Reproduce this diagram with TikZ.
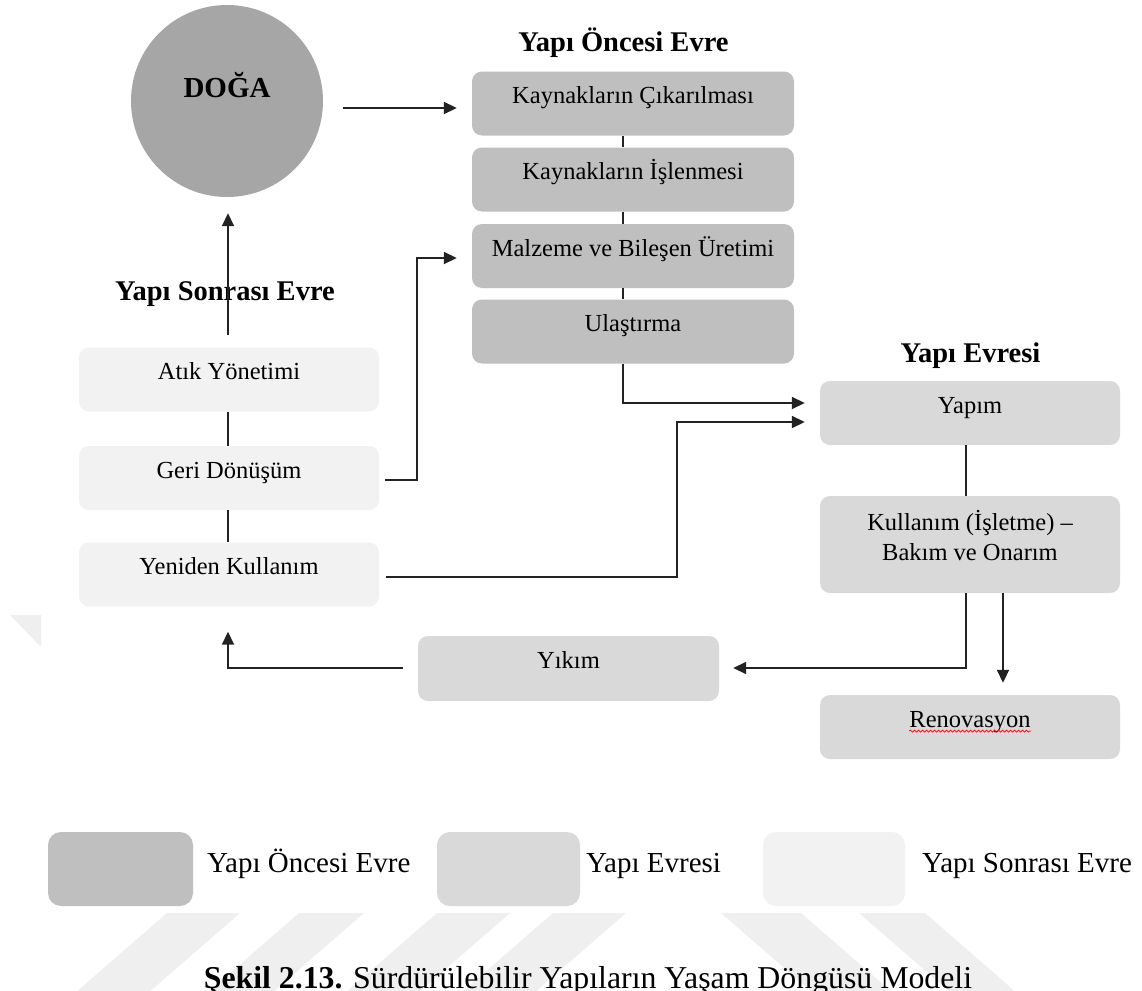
\documentclass[tikz,border=0pt]{standalone}
\usepackage{fontspec}
\setmainfont{Liberation Serif}
\usetikzlibrary{arrows.meta,calc,decorations.pathmorphing}

\definecolor{preclr}{HTML}{BFBFBF}
\definecolor{conclr}{HTML}{D9D9D9}
\definecolor{postclr}{HTML}{F2F2F2}
\definecolor{natclr}{HTML}{A6A6A6}
\definecolor{wmclr}{HTML}{EFEFEF}
\definecolor{lineclr}{HTML}{222222}

\begin{document}
\begin{tikzpicture}[x=1pt,y=-1pt,
  phase/.style={rounded corners=10pt, inner sep=0pt, minimum height=64pt, minimum width=300pt},
  prebox/.style={phase, fill=preclr, minimum width=322pt},
  conbox/.style={phase, fill=conclr},
  postbox/.style={phase, fill=postclr},
  keybox/.style={rounded corners=13pt, inner sep=0pt, minimum height=74pt, minimum width=144pt},
  lbl/.style={anchor=base, inner sep=0pt, font=\fontsize{24.5}{29}\selectfont},
  ttl/.style={anchor=base, inner sep=0pt, font=\fontsize{28.5}{34}\selectfont\bfseries},
  keytxt/.style={anchor=base west, inner sep=0pt, font=\fontsize{29}{34}\selectfont},
  link/.style={draw=lineclr, line width=1.8pt},
  arr/.style={link, -{Triangle[length=13pt,width=12pt]}},
]
\path[use as bounding box, clip] (0,0) rectangle (1142,990);
\fill[white] (0,0) rectangle (1142,990);

% faint background stripes
\fill[wmclr] (10,615) -- (41,615) -- (41,647) -- cycle;
\foreach \a/\b in {167/240, 299/364, 437/510, 553/626}
  \fill[wmclr] (\a,913) -- (\b,913) -- ({\b-100},1000) -- ({\a-100},1000) -- cycle;
\foreach \a/\b in {721/801, 859/925}
  \fill[wmclr] (\a,913) -- (\b,913) -- ({\b+100},1000) -- ({\a+100},1000) -- cycle;

% nature
\node[circle, fill=natclr, minimum size=192pt, inner sep=0pt] (doga) at (227,101) {};
\node[ttl, font=\fontsize{29}{34}\selectfont\bfseries] (dogat) at (227,97) {DOĞA};

% pre-construction phase
\node[ttl] (tpre) at (623.5,52) {Yapı Öncesi Evre};
\node[prebox] (k1) at (633,103.5) {};
\node[prebox] (k2) at (633,179.5) {};
\node[prebox] (k3) at (633,256) {};
\node[prebox] (k4) at (633,331.5) {};
\node[lbl] (k1t) at (k1.center) {Kaynakların Çıkarılması};
\node[lbl] (k2t) at (k2.center) {Kaynakların İşlenmesi};
\node[lbl] (k3t) at (k3.center) {Malzeme ve Bileşen Üretimi};
\node[lbl] (k4t) at (k4.center) {Ulaştırma};

% construction phase
\node[ttl] (tcon) at (970.5,362) {Yapı Evresi};
\node[conbox] (yapim) at (970,413) {};
\node[conbox, minimum height=97pt] (use) at (970,544.5) {};
\node[conbox] (reno) at (970,727) {};
\node[conbox, minimum width=301pt, minimum height=65pt] (yikim) at (568.5,668.5) {};
\node[lbl] (yapimt) at (yapim.center) {Yapım};
\node[lbl] (uset1) at ($(use.center)+(0,-14.5)$) {Kullanım (İşletme) –};
\node[lbl] (uset2) at ($(use.center)+(0,15.5)$) {Bakım ve Onarım};
\node[lbl] (renot) at (reno.center) {Renovasyon};
\draw[red, line width=0.7pt, decorate, decoration={snake, amplitude=1pt, segment length=4pt}]
  ($(renot.base west)+(0,4)$) -- ($(renot.base east)+(0,4)$);
\node[lbl] (yikimt) at (yikim.center) {Yıkım};

% post-construction phase
\node[ttl] (tpost) at (225,300) {Yapı Sonrası Evre};
\node[postbox] (atik) at (229,379.5) {};
\node[postbox] (geri) at (229,478) {};
\node[postbox] (yeni) at (229,574.5) {};
\node[lbl] (atikt) at (atik.center) {Atık Yönetimi};
\node[lbl] (gerit) at (geri.center) {Geri Dönüşüm};
\node[lbl] (yenit) at (yeni.center) {Yeniden Kullanım};

% connectors
\draw[arr] ($(doga.east)+(20,7)$) -- ($(k1.west)+(-15,4.5)$);
\draw[link] ($(k1.south)+(-10,0)$) -- ($(k2.north)+(-10,0)$);
\draw[link] ($(k2.south)+(-10,0)$) -- ($(k3.north)+(-10,0)$);
\draw[link] ($(k3.south)+(-10,0)$) -- ($(k4.north)+(-10,0)$);
\draw[arr] ($(k4.south)+(-10,0)$) |- ($(yapim.west)+(-15,-10)$);
\draw[arr] ($(yeni.east)+(7,2.5)$) -| ($(yapim.west)+(-143,9)$) -- ($(yapim.west)+(-15,9)$);
\draw[arr] ($(geri.east)+(6,2)$) -| ($(k3.west)+(-55,2)$) -- ($(k3.west)+(-15,2)$);
\draw[link] ($(atik.south)+(-1,0)$) -- ($(geri.north)+(-1,0)$);
\draw[link] ($(geri.south)+(-1,0)$) -- ($(yeni.north)+(-1,0)$);
\draw[arr] ($(atik.north)+(-1,-12)$) -- ($(doga.south)+(1,16)$);
\draw[link] ($(yapim.south)+(-4,0)$) -- ($(use.north)+(-4,0)$);
\draw[arr] ($(use.south)+(-4,0)$) |- ($(yikim.east)+(14,-0.5)$);
\draw[arr] ($(use.south)+(33,0)$) -- ($(reno.north)+(33,-12)$);
\draw[arr] ($(yikim.west)+(-15,-0.5)$) -| ($(yeni.south)+(-1,25)$);

% key
\node[keybox, fill=preclr, minimum width=145pt] (key1) at (120.5,869) {};
\node[keybox, fill=conclr, minimum width=143pt] (key2) at (508.5,869) {};
\node[keybox, fill=postclr, minimum width=142pt] (key3) at (834,869) {};
\node[keytxt] (key1t) at (207,872) {Yapı Öncesi Evre};
\node[keytxt] (key2t) at (586,872) {Yapı Evresi};
\node[keytxt] (key3t) at (922,872) {Yapı Sonrası Evre};

% caption, running off the lower edge
\node[anchor=base, inner sep=0pt, font=\fontsize{31.8}{38}\selectfont] (cap) at (588,988)
  {\textbf{Şekil 2.13.} Sürdürülebilir Yapıların Yaşam Döngüsü Modeli};
\end{tikzpicture}
\end{document}
